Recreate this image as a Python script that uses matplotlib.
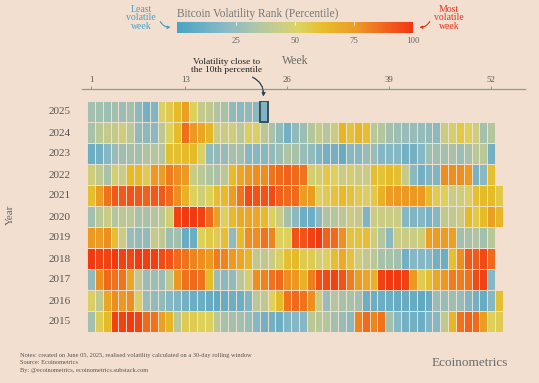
import numpy as np
import matplotlib.pyplot as plt
from matplotlib.colors import LinearSegmentedColormap
from matplotlib.patches import Rectangle
from matplotlib.lines import Line2D

plt.rcParams['font.family'] = ['Liberation Serif', 'DejaVu Serif']

# volatility rank (percentile) per week
years = [2015, 2016, 2017, 2018, 2019, 2020, 2021, 2022, 2023, 2024, 2025]
rank_2015 = [30, 54, 62, 96, 96, 98, 96, 86, 84, 72, 64, 38, 54,
             54, 52, 52, 38, 32, 30, 30, 26, 20, 14, 14, 12, 18,
             20, 20, 38, 38, 36, 30, 26, 22, 80, 86, 80, 84, 30,
             20, 14, 14, 12, 18, 20, 40, 64, 84, 88, 86, 74, 52, 54]
rank_2016 = [50, 40, 70, 78, 76, 78, 50, 26, 24, 24, 20, 18, 14,
             12, 12, 10, 8, 10, 12, 12, 18, 38, 40, 52, 62, 84,
             86, 84, 78, 44, 26, 36, 32, 32, 30, 12, 12, 12, 12,
             10, 10, 10, 8, 10, 26, 26, 28, 26, 18, 14, 10, 20, 60]
rank_2017 = [24, 78, 86, 84, 84, 70, 40, 26, 28, 26, 40, 76, 84,
             86, 84, 62, 26, 22, 24, 38, 48, 78, 80, 84, 86, 78,
             76, 66, 82, 92, 94, 96, 92, 82, 74, 70, 66, 96, 98,
             98, 96, 76, 54, 60, 70, 76, 82, 82, 84, 94, 96, 20]
rank_2018 = [98, 96, 96, 98, 96, 95, 98, 97, 97, 94, 92, 86, 84,
             80, 78, 76, 82, 80, 76, 70, 64, 40, 40, 44, 50, 60,
             62, 54, 54, 48, 52, 60, 68, 58, 46, 40, 38, 32, 32,
             30, 14, 20, 20, 20, 14, 12, 60, 78, 90, 90, 94, 86]
rank_2019 = [76, 74, 78, 60, 44, 26, 24, 24, 42, 40, 28, 30, 10,
             12, 52, 56, 54, 60, 24, 62, 78, 78, 84, 80, 52, 52,
             92, 92, 96, 98, 88, 86, 78, 58, 58, 60, 46, 36, 22,
             44, 44, 44, 46, 72, 74, 74, 72, 30, 32, 34, 30, 38]
rank_2020 = [30, 38, 44, 36, 38, 38, 32, 32, 36, 38, 48, 96, 98,
             98, 96, 86, 72, 52, 62, 68, 70, 70, 62, 52, 44, 30,
             22, 12, 12, 22, 34, 36, 38, 44, 42, 18, 44, 44, 44,
             44, 20, 18, 20, 16, 20, 40, 40, 44, 62, 56, 62, 72, 64]
rank_2021 = [60, 74, 84, 90, 90, 92, 90, 88, 90, 90, 86, 78, 66,
             52, 46, 52, 60, 62, 74, 84, 94, 92, 92, 94, 88, 86,
             86, 74, 74, 52, 54, 58, 62, 58, 54, 50, 56, 66, 74,
             76, 76, 76, 76, 62, 54, 52, 44, 46, 50, 60, 62, 62, 56]
rank_2022 = [46, 40, 32, 48, 44, 62, 62, 54, 76, 74, 82, 78, 76,
             44, 38, 34, 32, 38, 62, 70, 76, 78, 78, 84, 86, 88,
             86, 84, 48, 48, 56, 52, 44, 48, 44, 44, 60, 58, 62,
             60, 42, 22, 14, 18, 18, 78, 78, 78, 76, 16, 22, 60]
rank_2023 = [12, 14, 20, 26, 28, 30, 30, 34, 36, 36, 60, 60, 62,
             62, 50, 24, 24, 25, 30, 30, 20, 20, 20, 24, 28, 34,
             32, 26, 24, 18, 14, 14, 10, 20, 20, 26, 26, 20, 20,
             20, 14, 14, 20, 28, 28, 30, 32, 27, 32, 38, 38, 14]
rank_2024 = [32, 38, 42, 42, 46, 38, 24, 22, 22, 38, 52, 62, 85,
             76, 70, 64, 44, 44, 46, 38, 50, 50, 38, 32, 24, 14,
             24, 28, 36, 42, 36, 44, 64, 58, 64, 60, 38, 36, 30,
             28, 26, 26, 25, 24, 22, 44, 48, 56, 52, 45, 30, 36]
rank_2025 = [30, 30, 28, 30, 27, 30, 22, 14, 18, 50, 55, 62, 72,
             52, 42, 40, 34, 32, 24, 22, 24, 22, 18]
rows = [rank_2015, rank_2016, rank_2017, rank_2018, rank_2019, rank_2020,
        rank_2021, rank_2022, rank_2023, rank_2024, rank_2025]

week_ticks = [1, 13, 26, 39, 52]
cbar_ticks = [25, 50, 75, 100]
highlight_week = 23

bg = '#f2dfcf'
cmap = LinearSegmentedColormap.from_list('vol', [
    (0.0, '#3a9cbe'), (0.2, '#7db4c4'), (0.33, '#a6c1a4'), (0.45, '#c9cc78'),
    (0.52, '#dccf52'), (0.62, '#e6b81a'), (0.76, '#ec9212'), (0.87, '#f05c0c'),
    (1.0, '#f22400')])

W, H = 539, 383
fig = plt.figure(figsize=(W / 100, H / 100), dpi=100, facecolor=bg)

def fx(px):
    return px / W

def fy(py):
    return 1 - py / H

# heatmap, one row per year so that missing weeks stay empty
ax = fig.add_axes([fx(87), fy(331.5), fx(503) - fx(87), fy(100.5) - fy(331.5)])
ax.set_facecolor(bg)
for yr, r in zip(years, rows):
    ax.pcolormesh(np.arange(0.5, len(r) + 1), [yr - 0.5, yr + 0.5], [r], cmap=cmap,
                  vmin=0, vmax=100, edgecolors='#f1e3d6', linewidth=0.5, alpha=0.92)
ax.add_patch(Rectangle((highlight_week - 0.5, 2024.5), 1, 1, fill=False,
                       edgecolor='#2c4655', lw=1.3, zorder=5))
ax.set_xlim(0.5, 53.5)
ax.set_ylim(2014.5, 2025.5)
for s in ax.spines.values():
    s.set_visible(False)
ax.spines['top'].set_position(('outward', 8.3))
ax.xaxis.tick_top()
ax.set_xticks(week_ticks)
ax.tick_params(axis='x', length=2.5, width=0.6, color='#888888', pad=1,
               labelsize=6.3, labelcolor='#555555')
ax.set_yticks(years)
ax.tick_params(axis='y', length=0, pad=12, labelsize=8, labelcolor='#555555')
fig.text(fx(10), fy(215), 'Year', fontsize=8, color='#666666', rotation=90,
         ha='center', va='center')

fig.add_artist(Line2D([fx(82), fx(525)], [fy(89), fy(89)], color='#8a9aa0', lw=0.9))
fig.text(fx(295), fy(61), 'Week', fontsize=8.5, color='#6a6a6a', ha='center', va='center')

# colour bar
cax = fig.add_axes([fx(177), fy(33), fx(413) - fx(177), fy(22) - fy(33)])
cax.imshow(np.linspace(0, 100, 256)[None, :], cmap=cmap, aspect='auto',
           extent=[0, 100, 0, 1], alpha=0.92)
for t in cbar_ticks[:-1]:
    cax.plot([t, t], [0.75, 1], color='white', lw=0.6, alpha=0.8)
cax.set_xlim(0, 100)
cax.set_yticks([])
cax.set_xticks(cbar_ticks)
cax.tick_params(axis='x', length=0, pad=3, labelsize=6.3, labelcolor='#666666')
for s in cax.spines.values():
    s.set_visible(False)
fig.text(fx(177), fy(14), 'Bitcoin Volatility Rank (Percentile)', fontsize=8.3,
         color='#777777', ha='left', va='center')

fig.text(fx(141), fy(18), 'Least\nvolatile\nweek', fontsize=7, color='#4a9fc0',
         ha='center', va='center', linespacing=0.95)
fig.add_artist(plt.annotate('', xy=(fx(173), fy(27)), xytext=(fx(159), fy(19)),
               xycoords='figure fraction', textcoords='figure fraction',
               arrowprops=dict(arrowstyle='-|>', color='#4a9fc0', lw=0.6,
                               mutation_scale=4, connectionstyle='arc3,rad=0.4')))
fig.text(fx(449), fy(18), 'Most\nvolatile\nweek', fontsize=7, color='#e8341c',
         ha='center', va='center', linespacing=0.95)
fig.add_artist(plt.annotate('', xy=(fx(417), fy(27)), xytext=(fx(431), fy(19)),
               xycoords='figure fraction', textcoords='figure fraction',
               arrowprops=dict(arrowstyle='-|>', color='#e8341c', lw=0.6,
                               mutation_scale=4, connectionstyle='arc3,rad=-0.4')))

fig.text(fx(227), fy(66), 'Volatility close to\nthe 10th percentile', fontsize=6.8,
         color='#222222', ha='center', va='center', linespacing=1.0)
fig.add_artist(plt.annotate('', xy=(fx(263), fy(99)), xytext=(fx(250), fy(76)),
               xycoords='figure fraction', textcoords='figure fraction',
               arrowprops=dict(arrowstyle='-|>', color='#2c4655', lw=0.7,
                               mutation_scale=5, connectionstyle='arc3,rad=-0.4')))

# footer
fig.text(fx(20), fy(355.5), 'Notes: created on June 05, 2025, realised volatility '
         'calculated on a 30-day rolling window', fontsize=4.6, color='#555555',
         va='center')
fig.text(fx(20), fy(363), 'Source: Ecoinometrics', fontsize=4.6, color='#555555', va='center')
fig.text(fx(20), fy(370.5), 'By: @ecoinometrics, ecoinometrics.substack.com',
         fontsize=4.6, color='#555555', va='center')
fig.text(fx(508), fy(363), 'Ecoinometrics', fontsize=9.5, color='#6b6b6b',
         ha='right', va='center')

fig.savefig('out.png', dpi=100, facecolor=bg)
